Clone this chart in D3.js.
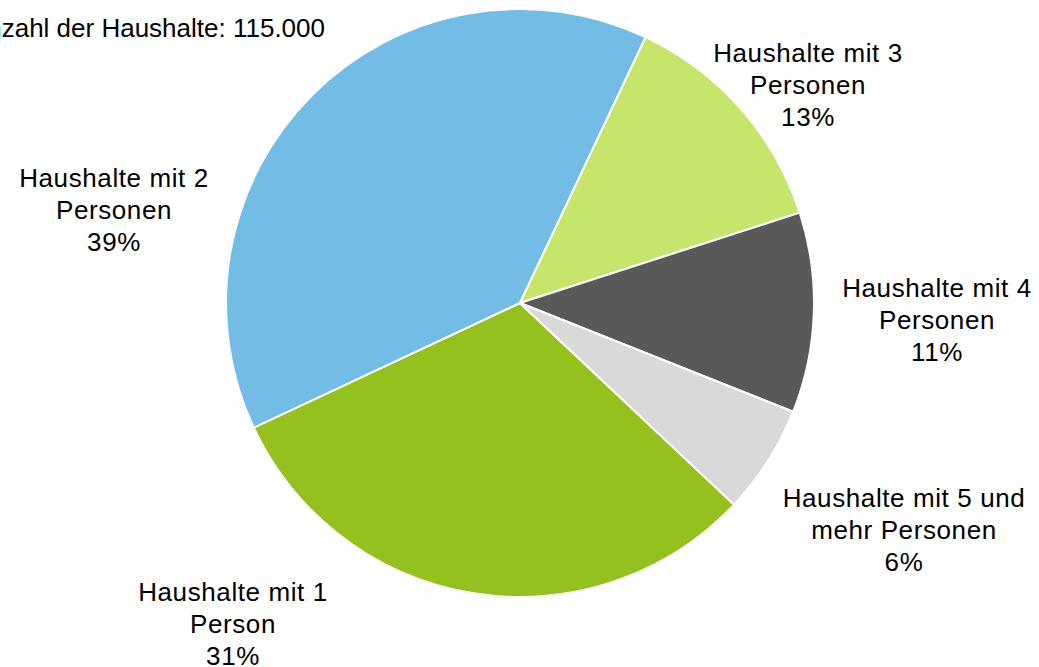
<!DOCTYPE html>
<html>
<head>
<meta charset="utf-8">
<script src="https://cdn.jsdelivr.net/npm/d3@7"></script>
<style>
	html, body { margin: 0; padding: 0; background: #fff; }
	svg { display: block; }
	.title, .pie-label { font-family: "Liberation Sans", Arial, sans-serif; fill: #000; }
</style>
</head>
<body>
<div id="chart"></div>
<script>

	// data
	const categories = [
		"Haushalte mit 1 Person",
		"Haushalte mit 2 Personen",
		"Haushalte mit 3 Personen",
		"Haushalte mit 4 Personen",
		"Haushalte mit 5 und mehr Personen"
	];
	const shares = [31, 39, 13, 11, 6];
	const labelLines = [
		["Haushalte mit 1", "Person"],
		["Haushalte mit 2", "Personen"],
		["Haushalte mit 3", "Personen"],
		["Haushalte mit 4", "Personen"],
		["Haushalte mit 5 und", "mehr Personen"]
	];
	const titleText = "Anzahl der Haushalte: 115.000";

	// set up
	const w = 1039;
	const h = 667;
	const cx = 520;
	const cy = 303;
	const radius = 294;
	const lineH = 32;

	// colours
	const colorMap = new Map([
		[categories[0], "#95c11f"],
		[categories[1], "#72bce5"],
		[categories[2], "#c6e66b"],
		[categories[3], "#595959"],
		[categories[4], "#d9d9d9"]
	]);

	// where Excel put each label (centre x, first baseline)
	const labelPos = new Map([
		[categories[0], [233, 601]],
		[categories[1], [114, 187]],
		[categories[2], [808, 62]],
		[categories[3], [937, 297]],
		[categories[4], [904, 507]]
	]);

	const data = categories.map((c, i) => ({cat: c, value: shares[i], lines: labelLines[i]}));

	const svg = d3.select("#chart")
		.append("svg")
		.attr("width", w)
		.attr("height", h);

	const startA = 133.3 * Math.PI / 180;
	const pie = d3.pie()
		.value(d => d.value)
		.sort(null)
		.startAngle(startA)
		.endAngle(startA + 2 * Math.PI);

	const arc = d3.arc()
		.innerRadius(0)
		.outerRadius(radius);

	const g = svg.append("g")
		.attr("transform", `translate(${cx},${cy})`);

	g.selectAll("path")
		.data(pie(data))
		.enter()
		.append("path")
		.attr("d", arc)
		.attr("fill", d => colorMap.get(d.data.cat))
		.attr("stroke", "#fff")
		.attr("stroke-width", 2)
		.attr("stroke-linejoin", "round");

	// labels
	const labels = svg.selectAll(".pie-label")
		.data(data)
		.enter()
		.append("text")
		.attr("class", "pie-label")
		.attr("text-anchor", "middle")
		.attr("font-size", 26)
		.attr("letter-spacing", "0.6px")
		.attr("x", d => labelPos.get(d.cat)[0])
		.attr("y", d => labelPos.get(d.cat)[1]);

	labels.each(function(d){
		const t = d3.select(this);
		const pos = labelPos.get(d.cat);
		const rows = d.lines.concat([d.value + "%"]);
		rows.forEach((r, i) => {
			t.append("tspan")
				.attr("x", pos[0])
				.attr("y", pos[1] + i * lineH)
				.text(r);
		});
	});

	// title (cut off at the left, as in the original)
	svg.append("text")
		.attr("class", "title")
		.attr("x", 325)
		.attr("y", 37)
		.attr("text-anchor", "end")
		.attr("font-size", 26)
		.text(titleText);

</script>
</body>
</html>
